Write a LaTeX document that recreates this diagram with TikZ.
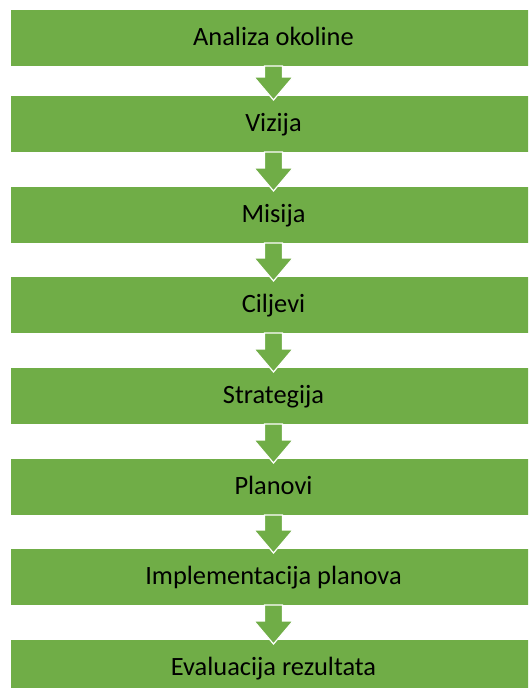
\documentclass[tikz,border=0pt]{standalone}
\usepackage{fontspec}
\setmainfont{Carlito}
\usetikzlibrary{calc}
\definecolor{stepgreen}{HTML}{70AD47}
\begin{document}
\begin{tikzpicture}[x=1pt,y=1pt]
      \useasboundingbox (0,0) rectangle (528,-688);
      \clip (0,0) rectangle (528,-688);
      \def \Steps{
        1/10/Analiza okoline,
        2/96/Vizija,
        3/187/Misija,
        4/277/Ciljevi,
        5/368/Strategija,
        6/459/Planovi,
        7/549/Implementacija planova,
        8/640/Evaluacija rezultata}
      \def \Edges{
        1/2,
        2/3,
        3/4,
        4/5,
        5/6,
        6/7,
        7/8}
      \foreach \id / \y / \txt in \Steps{
        \node[fill=stepgreen,inner sep=0pt,anchor=north,minimum width=525pt,minimum height=55.5pt,
          text height=19.5pt,text depth=5pt,font=\fontsize{26.4}{30}\selectfont] (s\id) at (273.5,-\y) {\txt};
      }
      \foreach \x / \y in \Edges{
        \path[fill=stepgreen,draw=white,line width=1.2pt,line join=miter]
          ($(s\x.south)+(-9,0)$) -- ($(s\y.north)+(-9,19)$) -- ($(s\y.north)+(-19.5,19)$)
          -- ($(s\y.north)+(0,-4)$) -- ($(s\y.north)+(19.5,19)$) -- ($(s\y.north)+(9,19)$)
          -- ($(s\x.south)+(9,0)$) -- cycle;
      }
    \end{tikzpicture}
\end{document}
